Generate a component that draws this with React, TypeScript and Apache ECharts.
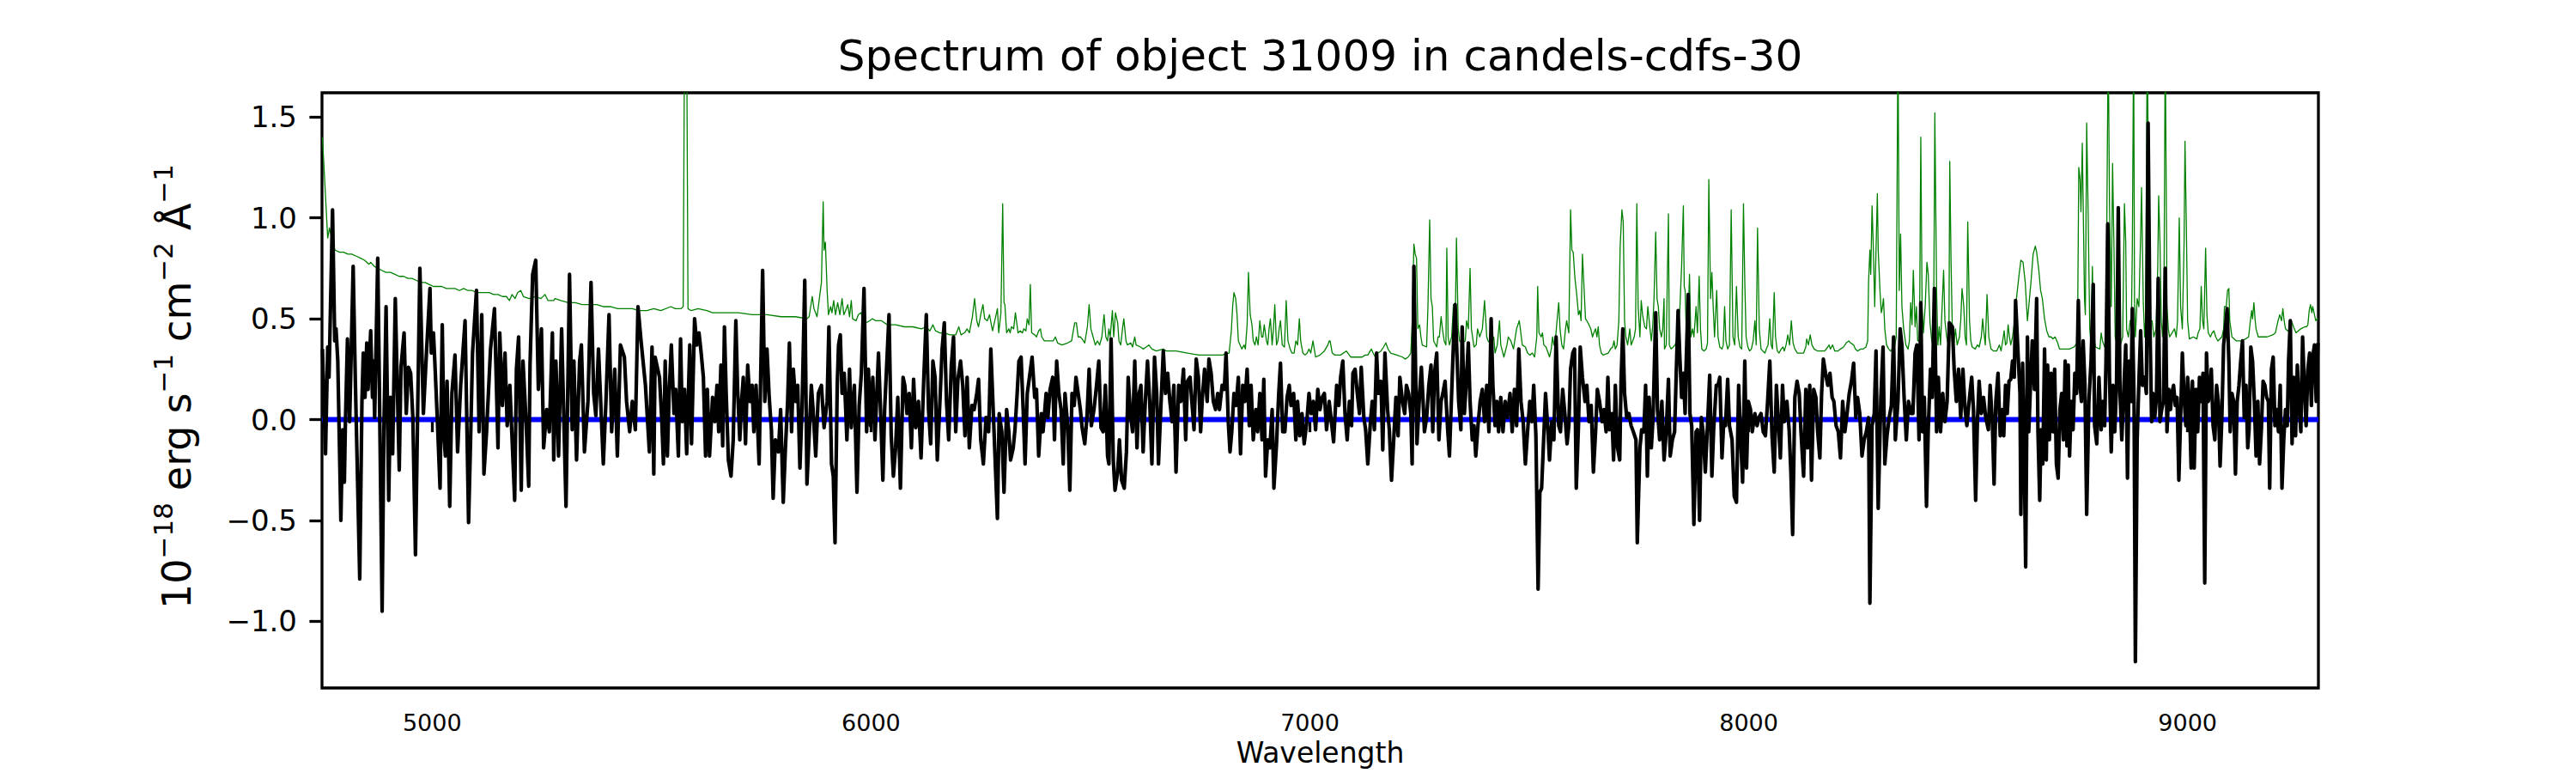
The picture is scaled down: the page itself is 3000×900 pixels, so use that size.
import React, { useEffect, useRef } from "react";
import * as echarts from "echarts";

const titleText = "Spectrum of object 31009 in candels-cdfs-30";
const xLabelText = "Wavelength";
const xTicks = [5000, 6000, 7000, 8000, 9000];
const yTicks = [-1.0, -0.5, 0.0, 0.5, 1.0, 1.5];
const waveRange = [4749, 9298];
const fluxRange = [-1.33, 1.62];
const zeroLevel = 0;

// black: measured flux [wavelength, value]
const fluxPoints: [number, number][] = [
[4750,0.35],[4757,-0.17],[4762,0.36],[4765,0.21],[4773,1.04],[4778,0.39],[4781,0.45],[4785,0.29],[4792,-0.50],[4796,-0.05],[4800,-0.31],[4802,-0.05],[4807,0.40],[4812,-0.01],[4820,0.76],[4825,0.19],[4835,-0.79],[4840,0.09],[4843,0.33],[4847,0.11],[4851,0.38],[4854,0.15],[4860,0.44],[4864,0.11],[4866,0.29],[4869,0.01],[4876,0.80],[4879,0.29],[4886,-0.95],[4890,-0.05],[4895,0.56],[4901,-0.40],[4905,0.11],[4910,-0.17],[4916,0.60],[4925,-0.25],[4929,0.26],[4936,0.43],[4941,0.03],[4946,0.26],[4951,0.23],[4956,0.01],[4962,-0.67],[4966,-0.10],[4972,0.75],[4980,0.03],[4987,0.33],[4995,0.65],[4998,0.33],[5003,0.43],[5006,0.29],[5012,-0.01],[5018,-0.34],[5023,0.47],[5027,-0.08],[5030,-0.18],[5034,0.19],[5040,-0.43],[5045,0.13],[5052,0.32],[5058,-0.16],[5065,0.17],[5075,0.49],[5083,-0.51],[5088,-0.06],[5092,0.33],[5101,0.64],[5107,-0.06],[5113,0.52],[5118,-0.27],[5124,-0.06],[5133,0.35],[5142,0.55],[5150,-0.14],[5154,0.43],[5160,0.07],[5166,0.33],[5171,-0.03],[5177,0.17],[5188,-0.40],[5192,0.25],[5197,0.41],[5203,-0.35],[5207,0.29],[5214,-0.01],[5220,-0.33],[5223,0.27],[5229,0.72],[5236,0.79],[5242,0.15],[5249,0.45],[5254,-0.14],[5261,0.05],[5267,-0.06],[5274,0.43],[5277,-0.20],[5282,0.29],[5288,-0.18],[5295,0.45],[5305,-0.43],[5313,0.72],[5319,-0.05],[5323,0.29],[5329,-0.20],[5336,0.29],[5340,0.37],[5347,-0.16],[5355,0.09],[5362,0.68],[5368,0.13],[5373,0.02],[5379,0.35],[5390,-0.22],[5396,0.09],[5403,0.52],[5409,-0.06],[5416,0.25],[5422,-0.18],[5429,0.37],[5438,0.31],[5443,0.09],[5450,-0.06],[5456,0.09],[5463,-0.05],[5469,0.56],[5476,0.39],[5486,0.17],[5495,-0.16],[5501,0.36],[5505,-0.27],[5508,0.31],[5518,0.21],
[5523,0.01],[5527,-0.22],[5531,0.29],[5536,-0.18],[5540,0.13],[5545,0.37],[5551,0.03],[5555,0.15],[5561,-0.18],[5566,0.40],[5570,-0.01],[5575,0.15],[5580,-0.17],[5587,0.37],[5591,-0.12],[5598,0.50],[5603,0.37],[5608,0.43],[5613,0.33],[5618,0.21],[5623,-0.18],[5627,0.15],[5632,-0.18],[5639,0.11],[5644,-0.01],[5649,0.17],[5653,-0.06],[5658,0.27],[5662,-0.13],[5666,0.46],[5670,0.13],[5675,-0.20],[5681,-0.28],[5686,-0.10],[5692,0.49],[5696,0.15],[5701,-0.10],[5705,0.09],[5709,0.21],[5714,-0.12],[5719,0.27],[5724,0.09],[5729,0.17],[5733,-0.06],[5738,0.17],[5745,-0.22],[5753,0.74],[5758,0.09],[5763,0.35],[5768,0.11],[5773,-0.05],[5777,-0.39],[5782,-0.10],[5789,-0.16],[5794,0.05],[5800,-0.41],[5805,-0.14],[5810,0.09],[5814,0.38],[5819,-0.06],[5823,0.25],[5828,0.09],[5833,0.17],[5838,-0.24],[5843,0.07],[5849,0.69],[5854,-0.32],[5859,-0.08],[5864,0.17],[5868,0.05],[5874,-0.18],[5880,0.13],[5887,0.17],[5893,-0.04],[5900,0.09],[5904,0.46],[5910,-0.22],[5914,-0.28],[5918,-0.61],[5923,0.17],[5926,0.37],[5930,0.42],[5934,0.13],[5939,0.23],[5945,-0.10],[5951,0.25],[5955,-0.04],[5962,0.17],[5968,-0.36],[5973,0.07],[5978,0.23],[5984,0.65],[5990,-0.06],[5994,0.25],[5999,-0.03],[6004,0.21],[6009,-0.10],[6017,0.33],[6022,0.03],[6027,-0.30],[6031,0.05],[6037,0.33],[6041,0.52],[6046,-0.08],[6051,-0.28],[6056,-0.14],[6061,0.11],[6067,-0.34],[6073,0.21],[6077,0.17],[6082,0.03],[6087,0.13],[6092,-0.14],[6097,0.20],[6102,-0.04],[6108,0.09],[6114,-0.19],[6120,0.19],[6126,0.52],[6131,0.05],[6136,-0.12],[6141,0.29],[6146,0.21],[6151,-0.20],[6157,0.09],[6162,0.35],[6167,0.48],[6172,0.09],[6177,-0.10],[6183,0.27],[6188,0.41],[6193,-0.06],[6198,0.20],[6204,0.29],[6209,0.17],[6214,-0.08],[6219,0.21],[6224,-0.14],[6230,0.07],[6235,0.05],[6241,0.13],[6245,0.20],[6250,-0.10],[6256,-0.22],[6262,0.01],[6268,-0.06],[6273,0.35],
[6288,-0.49],[6292,0.03],[6298,-0.06],[6303,-0.36],[6309,0.05],[6314,-0.06],[6318,-0.20],[6324,-0.14],[6328,-0.05],[6333,0.13],[6337,0.29],[6342,0.31],[6347,0.03],[6351,-0.22],[6356,0.13],[6361,0.21],[6367,0.31],[6373,0.11],[6377,0.15],[6382,-0.18],[6388,0.03],[6392,-0.06],[6399,0.13],[6403,0.01],[6408,0.15],[6414,0.21],[6418,-0.10],[6423,0.29],[6428,0.13],[6433,0.05],[6438,-0.22],[6442,0.13],[6448,-0.03],[6453,-0.35],[6458,0.13],[6463,0.07],[6467,0.21],[6472,0.13],[6477,0.05],[6481,-0.04],[6487,-0.12],[6492,0.01],[6497,0.25],[6502,-0.03],[6508,0.05],[6513,0.15],[6519,0.29],[6524,-0.04],[6529,-0.06],[6534,0.17],[6539,-0.18],[6542,-0.22],[6547,0.40],[6552,-0.20],[6556,-0.35],[6562,-0.26],[6566,-0.10],[6571,-0.30],[6577,-0.34],[6582,-0.16],[6586,0.21],[6591,0.03],[6596,-0.06],[6601,0.29],[6606,-0.14],[6611,0.13],[6615,0.17],[6620,-0.16],[6625,0.09],[6630,0.29],[6635,0.09],[6640,-0.22],[6646,0.31],[6651,0.13],[6655,-0.22],[6661,0.09],[6666,0.34],[6671,0.13],[6676,0.23],[6681,0.09],[6686,-0.01],[6690,0.17],[6695,-0.26],[6701,0.17],[6706,0.09],[6712,0.25],[6717,-0.10],[6721,0.19],[6727,0.21],[6731,0.09],[6736,-0.05],[6741,0.30],[6746,0.21],[6751,-0.06],[6755,0.11],[6760,0.25],[6766,0.09],[6770,0.30],[6775,0.23],[6780,0.09],[6785,0.05],[6790,0.13],[6794,0.05],[6800,0.17],[6805,0.15],[6809,0.33],[6814,-0.01],[6818,-0.16],[6822,-0.06],[6827,0.13],[6832,0.07],[6837,0.21],[6842,-0.17],[6847,0.17],[6852,0.09],[6857,0.25],[6862,-0.03],[6866,0.17],[6871,-0.10],[6877,0.05],[6881,-0.06],[6886,0.13],[6891,-0.10],[6895,0.20],[6899,-0.28],[6904,-0.10],[6909,-0.14],[6914,0.05],[6918,-0.34],[6924,-0.12],[6929,0.13],[6933,0.28],[6938,-0.06],[6943,-0.06],[6948,0.11],[6953,0.17],[6957,0.07],[6963,0.13],[6968,-0.10],[6972,0.09],[6977,-0.08],[6982,0.03],[6987,-0.12],[6993,-0.01],[6998,0.13],[7003,0.03],[7008,0.09],[7013,-0.05],[7018,0.15],[7023,0.05],[7028,0.11],[7033,0.13],[7038,-0.05],[7044,0.09],
[7054,-0.11],[7061,0.17],[7066,0.07],[7070,0.21],[7075,0.29],[7080,0.03],[7085,-0.10],[7090,0.09],[7095,-0.03],[7098,0.23],[7103,0.25],[7108,0.13],[7113,0.03],[7117,0.26],[7123,0.01],[7127,-0.05],[7132,-0.22],[7138,-0.01],[7142,0.09],[7147,-0.05],[7152,0.33],[7156,0.13],[7162,0.19],[7166,-0.15],[7171,0.33],[7177,0.05],[7181,-0.05],[7186,-0.30],[7191,-0.10],[7196,0.11],[7201,-0.08],[7205,0.21],[7211,0.09],[7216,0.03],[7220,0.17],[7225,0.13],[7230,0.03],[7233,-0.22],[7237,0.76],[7241,0.23],[7244,-0.12],[7250,0.13],[7254,0.26],[7258,0.09],[7261,-0.06],[7266,0.01],[7271,0.17],[7276,0.27],[7280,-0.06],[7284,0.23],[7289,0.33],[7294,-0.10],[7299,0.09],[7303,0.13],[7308,0.19],[7314,-0.05],[7318,-0.18],[7323,0.13],[7327,0.37],[7331,0.57],[7334,0.39],[7339,0.09],[7344,-0.05],[7347,0.46],[7352,0.03],[7356,0.17],[7361,0.38],[7365,0.09],[7370,-0.10],[7374,-0.03],[7378,-0.18],[7383,-0.03],[7388,0.09],[7393,0.15],[7398,-0.01],[7403,0.17],[7408,-0.06],[7413,0.50],[7417,0.17],[7422,-0.03],[7426,0.09],[7430,-0.06],[7435,0.11],[7440,-0.06],[7445,0.09],[7450,0.01],[7456,0.13],[7461,-0.06],[7466,0.15],[7471,-0.03],[7476,0.35],[7481,0.09],[7486,-0.01],[7491,-0.22],[7496,-0.06],[7501,0.09],[7506,-0.01],[7510,0.17],[7515,-0.08],[7520,-0.84],[7524,-0.36],[7528,-0.34],[7533,-0.08],[7537,0.13],[7542,-0.04],[7546,-0.20],[7551,-0.01],[7556,-0.10],[7561,0.41],[7567,-0.03],[7571,-0.06],[7576,0.15],[7581,0.03],[7586,-0.12],[7590,-0.03],[7594,0.25],[7599,0.33],[7603,0.35],[7607,-0.34],[7612,-0.03],[7616,0.36],[7621,0.21],[7627,0.09],[7631,0.17],[7636,-0.01],[7641,0.07],[7646,-0.26],[7651,-0.06],[7655,0.15],[7660,0.09],[7666,-0.01],[7670,0.05],[7675,-0.06],[7679,0.21],[7683,-0.05],[7688,0.03],[7692,-0.20],[7696,0.17],[7701,-0.14],[7706,-0.20],[7709,0.19],[7713,0.45],[7717,0.13],[7722,0.01],[7727,0.03],[7732,-0.03],[7737,-0.06],[7743,-0.10],[7746,-0.61],[7752,-0.14],[7756,-0.05],[7761,-0.06],[7765,0.17],[7769,-0.28],[7773,0.11],[7778,-0.14],[7782,0.01],[7788,0.53],[7792,0.05],[7797,-0.10],[7802,0.09],[7807,-0.20],
[7812,-0.06],[7817,0.20],[7821,-0.18],[7826,-0.10],[7831,-0.06],[7834,0.17],[7839,0.54],[7843,0.31],[7847,0.11],[7851,0.23],[7855,0.03],[7857,0.25],[7862,0.62],[7866,0.03],[7870,-0.03],[7875,-0.52],[7880,-0.06],[7883,-0.05],[7888,-0.50],[7892,0.01],[7896,-0.06],[7901,-0.26],[7906,-0.03],[7911,0.22],[7916,-0.28],[7920,-0.05],[7926,0.17],[7930,0.17],[7934,0.21],[7939,-0.19],[7943,-0.01],[7947,-0.03],[7952,0.20],[7956,-0.03],[7962,-0.10],[7967,-0.38],[7972,-0.41],[7977,0.17],[7981,-0.06],[7986,-0.31],[7991,0.29],[7995,-0.24],[7999,0.09],[8004,0.05],[8008,-0.06],[8014,0.03],[8019,-0.03],[8023,0.01],[8028,0.03],[8033,-0.06],[8038,-0.08],[8043,0.09],[8048,0.29],[8053,-0.08],[8058,-0.26],[8063,0.17],[8068,-0.03],[8072,-0.19],[8077,0.17],[8081,-0.01],[8087,0.09],[8092,-0.05],[8096,-0.26],[8100,-0.57],[8105,0.11],[8110,0.19],[8115,0.13],[8119,-0.06],[8125,-0.28],[8130,0.15],[8134,-0.14],[8139,0.17],[8143,-0.30],[8148,0.15],[8153,0.11],[8157,-0.06],[8162,-0.19],[8166,0.13],[8170,0.30],[8175,0.23],[8180,0.17],[8185,0.23],[8190,0.11],[8194,0.09],[8199,-0.03],[8204,-0.06],[8209,-0.19],[8214,0.09],[8219,-0.06],[8224,0.03],[8229,0.13],[8234,0.19],[8239,0.28],[8244,0.01],[8248,0.11],[8253,0.03],[8258,-0.18],[8263,-0.10],[8268,-0.06],[8273,0.01],[8276,-0.91],[8281,-0.03],[8286,0.03],[8290,0.34],[8295,-0.44],[8301,0.11],[8306,0.36],[8310,-0.22],[8315,-0.08],[8320,0.01],[8325,0.07],[8330,0.41],[8334,-0.10],[8340,0.09],[8345,0.45],[8349,0.37],[8354,0.11],[8359,-0.10],[8364,0.09],[8370,0.03],[8374,0.03],[8379,0.33],[8383,0.37],[8388,-0.10],[8392,0.58],[8396,-0.06],[8400,0.11],[8405,-0.43],[8409,-0.05],[8414,0.25],[8418,0.11],[8423,0.65],[8428,-0.06],[8432,0.21],[8437,-0.06],[8442,0.13],[8447,-0.01],[8452,0.09],[8457,0.48],[8464,0.46],[8468,0.25],[8473,0.09],[8478,0.25],[8483,0.01],[8488,0.25],[8493,0.05],[8497,-0.03],[8503,0.11],[8508,0.21],[8512,0.05],[8517,-0.40],[8521,-0.01],[8525,0.19],[8530,0.03],[8535,0.11],[8540,0.01],[8546,-0.05],[8550,0.17],[8555,-0.01],[8559,-0.32],[8563,0.09],[8568,0.23],[8573,-0.08],
[8578,0.05],[8581,-0.08],[8585,0.17],[8589,0.03],[8593,0.19],[8597,0.20],[8601,0.29],[8605,0.21],[8608,0.59],[8614,0.31],[8618,0.13],[8620,-0.47],[8624,0.28],[8627,-0.06],[8631,-0.73],[8635,0.41],[8638,-0.06],[8642,0.17],[8646,0.39],[8651,0.15],[8656,0.60],[8659,-0.06],[8663,-0.40],[8666,-0.05],[8670,-0.22],[8674,0.35],[8678,-0.20],[8681,0.27],[8685,-0.10],[8689,0.23],[8693,-0.06],[8697,0.25],[8701,-0.22],[8705,-0.29],[8709,0.05],[8713,0.13],[8717,-0.10],[8721,0.29],[8725,-0.13],[8728,0.27],[8731,-0.18],[8735,0.09],[8739,-0.05],[8743,0.23],[8747,0.13],[8751,0.59],[8755,0.17],[8758,0.09],[8762,0.39],[8766,0.17],[8770,-0.47],[8775,0.09],[8780,0.29],[8785,0.67],[8788,-0.03],[8793,-0.12],[8798,0.21],[8803,-0.05],[8807,0.09],[8811,-0.03],[8814,0.29],[8818,0.97],[8822,0.21],[8826,-0.16],[8830,0.17],[8834,-0.06],[8838,0.17],[8842,1.05],[8846,0.13],[8850,-0.10],[8855,0.17],[8859,0.37],[8863,-0.29],[8867,0.29],[8871,0.09],[8874,0.55],[8878,0.09],[8881,-1.20],[8885,-0.10],[8889,0.19],[8893,0.44],[8897,0.17],[8902,0.21],[8906,0.13],[8910,1.47],[8914,0.49],[8918,-0.01],[8921,0.13],[8925,0.01],[8929,0.11],[8933,0.70],[8937,-0.01],[8941,0.05],[8945,0.09],[8949,0.75],[8953,-0.06],[8957,0.15],[8961,0.05],[8964,0.13],[8968,0.17],[8972,0.07],[8976,0.11],[8980,-0.30],[8984,0.01],[8988,0.33],[8992,0.11],[8996,-0.03],[9000,0.21],[9004,0.09],[9008,-0.24],[9011,0.19],[9015,-0.24],[9019,0.15],[9023,-0.06],[9027,0.21],[9031,0.09],[9035,0.23],[9039,-0.81],[9043,0.33],[9047,0.09],[9051,0.13],[9054,0.25],[9058,-0.03],[9062,-0.10],[9066,0.17],[9070,0.09],[9074,-0.23],[9078,0.01],[9082,0.37],[9086,0.45],[9090,0.55],[9094,0.29],[9097,-0.06],[9101,0.13],[9105,0.09],[9109,-0.27],[9113,0.09],[9117,0.17],[9121,0.29],[9125,0.39],[9129,0.01],[9133,0.17],[9137,-0.14],[9140,-0.05],[9144,0.36],[9148,0.29],[9152,0.09],[9156,-0.18],[9160,0.09],[9164,-0.22],[9168,-0.05],[9172,0.19],[9176,0.17],[9180,0.11],[9184,0.09],[9187,-0.34],[9191,0.25],[9195,0.31],[9199,-0.03],[9203,0.05],[9207,-0.06],[9211,0.17],[9215,-0.34],[9219,-0.10],[9223,0.05],[9227,-0.03],[9230,0.29],[9234,0.49],[9238,-0.12],[9242,0.21],[9246,-0.08],[9250,0.27],[9254,0.07],[9258,-0.06],[9262,0.41],[9266,0.17],[9270,-0.03],[9274,0.25],[9278,0.33],[9282,0.07],[9285,0.31],[9289,0.37],[9293,0.09],[9297,0.38]
];

// green: noise spectrum [wavelength, value]
const noisePoints: [number, number][] = [
[4750,1.40],[4762,0.90],[4766,0.95],[4770,0.91],[4775,0.86],[4779,0.84],[4789,0.83],[4798,0.83],[4808,0.82],[4817,0.82],[4827,0.81],[4837,0.80],[4846,0.79],[4856,0.77],[4860,0.78],[4868,0.76],[4876,0.75],[4885,0.74],[4895,0.73],[4905,0.73],[4915,0.72],[4925,0.71],[4935,0.71],[4945,0.70],[4954,0.70],[4964,0.69],[4974,0.68],[4984,0.68],[4993,0.67],[5003,0.66],[5013,0.66],[5022,0.66],[5032,0.65],[5042,0.65],[5052,0.65],[5062,0.64],[5072,0.65],[5081,0.64],[5091,0.64],[5101,0.63],[5111,0.63],[5120,0.63],[5130,0.63],[5140,0.62],[5150,0.62],[5160,0.61],[5169,0.61],[5176,0.59],[5182,0.62],[5189,0.60],[5195,0.63],[5202,0.64],[5208,0.61],[5221,0.60],[5235,0.61],[5248,0.60],[5257,0.62],[5264,0.59],[5277,0.59],[5280,0.60],[5293,0.59],[5310,0.58],[5326,0.58],[5342,0.57],[5358,0.57],[5375,0.57],[5391,0.56],[5407,0.56],[5423,0.55],[5440,0.55],[5456,0.55],[5472,0.54],[5489,0.54],[5505,0.55],[5521,0.54],
[5544,0.56],[5554,0.55],[5567,0.55],[5572,0.56],[5575,1.9],[5580,1.9],[5583,0.55],[5590,0.54],[5606,0.55],[5626,0.54],[5639,0.53],[5665,0.53],[5698,0.53],[5730,0.52],[5763,0.52],[5795,0.51],[5828,0.51],[5854,0.50],[5859,0.51],[5866,0.61],[5870,0.55],[5877,0.51],[5887,0.68],[5891,1.08],[5893,0.84],[5896,0.88],[5900,0.64],[5903,0.52],[5908,0.56],[5911,0.53],[5915,0.59],[5919,0.52],[5924,0.58],[5929,0.52],[5934,0.60],[5938,0.52],[5942,0.54],[5947,0.57],[5951,0.51],[5955,0.59],[5958,0.50],[5966,0.49],[5971,0.52],[5977,0.53],[5981,0.50],[5988,0.48],[5997,0.49],[6003,0.50],[6011,0.49],[6024,0.49],[6037,0.47],[6056,0.47],[6076,0.46],[6095,0.46],[6115,0.45],[6125,0.46],[6134,0.44],[6141,0.47],[6147,0.44],[6157,0.43],[6167,0.43],[6180,0.42],[6193,0.42],[6200,0.46],[6205,0.42],[6213,0.43],[6219,0.45],[6224,0.43],[6231,0.51],[6236,0.60],[6241,0.49],[6245,0.46],[6250,0.52],[6255,0.57],[6259,0.50],[6265,0.49],[6270,0.52],[6275,0.46],[6277,0.44],[6283,0.50],
[6288,0.55],[6291,0.43],[6296,0.53],[6300,1.07],[6303,0.58],[6305,0.57],[6309,0.43],[6314,0.45],[6317,0.43],[6320,0.46],[6325,0.45],[6329,0.53],[6332,0.48],[6335,0.43],[6340,0.44],[6345,0.43],[6348,0.45],[6353,0.44],[6356,0.50],[6360,0.47],[6363,0.67],[6366,0.43],[6373,0.42],[6377,0.41],[6382,0.44],[6386,0.45],[6389,0.41],[6395,0.39],[6405,0.39],[6415,0.39],[6420,0.41],[6425,0.38],[6435,0.37],[6448,0.38],[6457,0.39],[6464,0.48],[6468,0.48],[6472,0.41],[6477,0.41],[6481,0.40],[6487,0.38],[6493,0.46],[6497,0.57],[6501,0.45],[6506,0.41],[6511,0.37],[6516,0.39],[6521,0.37],[6526,0.41],[6531,0.52],[6535,0.41],[6539,0.39],[6542,0.45],[6545,0.41],[6550,0.54],[6553,0.41],[6557,0.53],[6562,0.48],[6565,0.39],[6569,0.37],[6573,0.45],[6576,0.50],[6581,0.39],[6584,0.37],[6592,0.38],[6596,0.36],[6601,0.41],[6604,0.37],[6614,0.36],[6620,0.35],[6627,0.36],[6633,0.37],[6640,0.35],[6650,0.34],[6666,0.35],[6673,0.34],[6695,0.34],[6721,0.33],[6747,0.32],[6774,0.32],[6800,0.32],[6816,0.33],[6821,0.44],[6824,0.56],[6827,0.63],[6831,0.60],[6834,0.52],[6837,0.39],[6841,0.37],[6845,0.35],[6850,0.37],[6853,0.35],[6857,0.47],[6860,0.73],[6864,0.52],[6868,0.47],[6871,0.39],[6875,0.37],[6878,0.41],[6882,0.37],[6886,0.49],[6890,0.41],[6893,0.41],[6896,0.47],[6901,0.39],[6904,0.37],[6907,0.45],[6910,0.50],[6914,0.37],[6917,0.45],[6920,0.57],[6924,0.37],[6927,0.39],[6930,0.45],[6933,0.49],[6937,0.37],[6942,0.36],[6946,0.59],[6950,0.39],[6955,0.35],[6959,0.33],[6964,0.33],[6968,0.39],[6972,0.37],[6976,0.50],[6979,0.39],[6984,0.33],[6989,0.32],[6994,0.33],[6998,0.35],[7002,0.33],[7007,0.39],[7010,0.35],[7013,0.31],[7023,0.32],[7033,0.34],[7041,0.37],[7044,0.39],
[7046,0.39],[7051,0.33],[7057,0.32],[7070,0.32],[7083,0.34],[7093,0.31],[7106,0.31],[7119,0.31],[7126,0.32],[7132,0.32],[7140,0.35],[7144,0.33],[7149,0.31],[7155,0.33],[7162,0.34],[7168,0.36],[7173,0.38],[7178,0.35],[7184,0.33],[7198,0.32],[7211,0.31],[7217,0.30],[7224,0.31],[7230,0.33],[7233,0.47],[7237,0.87],[7240,0.82],[7243,0.80],[7246,0.45],[7250,0.47],[7253,0.41],[7256,0.37],[7266,0.36],[7269,0.56],[7273,0.99],[7276,0.60],[7279,0.56],[7282,0.39],[7289,0.36],[7292,0.41],[7295,0.41],[7299,0.51],[7302,0.45],[7306,0.39],[7310,0.37],[7312,0.85],[7315,0.41],[7318,0.37],[7323,0.41],[7327,0.57],[7331,0.45],[7334,0.90],[7338,0.45],[7341,0.39],[7347,0.38],[7354,0.39],[7357,0.49],[7361,0.45],[7365,0.75],[7368,0.45],[7374,0.36],[7379,0.37],[7382,0.45],[7387,0.41],[7393,0.45],[7398,0.59],[7403,0.41],[7406,0.39],[7413,0.37],[7419,0.41],[7422,0.33],[7427,0.37],[7432,0.49],[7435,0.37],[7442,0.31],[7449,0.37],[7452,0.41],[7458,0.39],[7464,0.35],[7468,0.41],[7471,0.45],[7477,0.49],[7479,0.46],[7484,0.37],[7491,0.36],[7496,0.33],[7501,0.32],[7507,0.33],[7512,0.31],[7517,0.41],[7519,0.66],[7522,0.43],[7527,0.41],[7530,0.43],[7533,0.37],[7538,0.36],[7543,0.33],[7546,0.31],[7550,0.35],[7553,0.41],[7556,0.37],[7560,0.41],[7564,0.51],[7567,0.58],[7570,0.45],[7574,0.37],[7578,0.35],[7582,0.44],[7585,0.49],[7590,0.43],[7594,1.04],[7597,0.84],[7600,0.83],[7604,0.70],[7608,0.62],[7612,0.52],[7615,0.54],[7618,0.49],[7621,0.82],[7625,0.64],[7628,0.50],[7631,0.49],[7636,0.47],[7640,0.45],[7644,0.41],[7647,0.43],[7651,0.45],[7654,0.41],[7657,0.46],[7660,0.37],[7664,0.33],[7668,0.32],[7680,0.33],[7685,0.35],[7690,0.36],[7693,0.39],[7696,0.35],[7700,0.37],[7704,0.49],[7707,0.86],[7711,1.04],[7714,0.98],[7717,0.49],[7720,0.41],[7724,0.37],[7729,0.45],[7732,0.37],[7739,0.41],[7742,0.45],[7745,1.07],[7748,0.56],[7752,0.41],[7755,0.59],[7758,0.52],[7763,0.46],[7767,0.45],[7770,0.56],[7775,0.45],[7778,0.39],[7781,0.46],[7784,0.59],[7788,0.93],[7791,0.60],[7794,0.56],[7797,0.45],[7801,0.41],[7804,0.45],[7807,0.60],
[7808,0.35],[7812,0.37],[7817,1.02],[7819,0.37],[7823,0.35],[7828,0.36],[7832,0.37],[7838,0.41],[7843,0.55],[7847,0.76],[7851,1.06],[7853,0.66],[7855,0.64],[7858,0.41],[7862,0.50],[7865,0.72],[7868,0.41],[7872,0.45],[7875,0.41],[7880,0.56],[7883,0.43],[7887,0.71],[7890,0.45],[7893,0.35],[7898,0.34],[7903,0.35],[7906,0.38],[7909,1.19],[7913,0.60],[7916,0.73],[7919,0.56],[7922,0.41],[7927,0.64],[7930,0.41],[7934,0.36],[7939,0.35],[7942,0.37],[7945,0.56],[7948,0.39],[7952,0.35],[7956,0.37],[7960,1.04],[7964,0.41],[7968,0.37],[7972,0.66],[7976,0.41],[7980,0.36],[7984,0.35],[7988,1.07],[7991,0.68],[7994,0.41],[7998,0.36],[8002,0.34],[8006,0.35],[8010,0.39],[8014,0.49],[8017,0.37],[8020,0.95],[8024,0.45],[8028,0.35],[8032,0.34],[8037,0.33],[8040,0.35],[8044,0.37],[8048,0.50],[8051,0.37],[8054,0.35],[8058,0.63],[8061,0.41],[8065,0.34],[8069,0.33],[8074,0.35],[8078,0.36],[8081,0.34],[8085,0.37],[8089,0.42],[8093,0.37],[8097,0.49],[8101,0.38],[8105,0.35],[8111,0.33],[8118,0.33],[8125,0.33],[8130,0.36],[8132,0.40],[8136,0.37],[8140,0.42],[8144,0.37],[8149,0.35],[8157,0.34],[8167,0.34],[8173,0.34],[8180,0.36],[8183,0.37],[8186,0.35],[8191,0.37],[8196,0.34],[8203,0.34],[8209,0.35],[8216,0.36],[8222,0.38],[8228,0.39],[8232,0.38],[8239,0.37],[8243,0.35],[8248,0.34],[8255,0.35],[8261,0.35],[8267,0.36],[8271,0.39],[8273,0.68],[8276,0.84],[8278,0.72],[8281,1.06],[8284,0.84],[8287,0.56],[8293,1.12],[8295,0.84],[8299,0.64],[8302,0.53],[8304,0.55],[8307,0.60],[8310,0.45],[8314,0.37],[8319,0.35],[8323,0.34],[8328,0.35],[8333,0.37],[8336,0.41],[8340,1.9],[8343,0.64],[8346,0.92],[8349,0.56],[8353,0.45],[8358,0.37],[8363,0.35],[8366,0.39],[8369,0.58],[8372,0.47],[8375,0.74],[8379,0.46],[8382,0.56],[8385,0.39],[8389,0.39],[8392,1.40],[8395,0.56],[8398,0.43],[8402,0.56],[8406,0.78],[8409,0.72],[8413,0.48],[8417,0.39],[8421,0.36],[8424,1.52],[8428,0.64],[8431,0.37],[8434,0.46],[8437,0.37],[8444,0.74],[8447,0.49],[8451,0.41],[8456,0.36],[8458,1.28],[8461,0.78],[8464,0.43],[8467,0.37],[8471,0.45],[8475,0.37],[8480,0.41],[8483,0.49],[8486,0.65],[8490,0.56],[8493,0.41],[8496,0.37],[8499,0.98],[8503,0.49],[8506,0.39],[8509,0.36],[8516,0.35],[8521,0.37],[8525,0.36],[8530,0.41],[8533,0.50],[8535,0.45],[8539,0.37],[8543,0.62],[8547,0.41],[8552,0.35],[8558,0.34],[8565,0.34],[8571,0.37],
[8575,0.34],[8580,0.41],[8582,0.44],[8585,0.37],[8588,0.38],[8591,0.47],[8594,0.41],[8597,0.37],[8601,0.41],[8606,0.49],[8610,0.60],[8615,0.70],[8620,0.79],[8625,0.78],[8630,0.68],[8635,0.49],[8638,0.56],[8643,0.68],[8648,0.82],[8653,0.86],[8656,0.83],[8661,0.74],[8665,0.64],[8669,0.60],[8674,0.50],[8679,0.44],[8684,0.41],[8689,0.41],[8693,0.40],[8698,0.41],[8704,0.38],[8708,0.35],[8713,0.35],[8721,0.35],[8731,0.35],[8741,0.36],[8749,0.38],[8752,1.25],[8755,1.19],[8757,1.03],[8760,1.37],[8762,1.07],[8765,0.60],[8767,0.52],[8770,1.47],[8773,1.07],[8777,0.45],[8780,0.37],[8783,0.76],[8786,0.41],[8790,0.36],[8800,0.35],[8803,0.43],[8806,0.39],[8811,0.36],[8814,0.41],[8819,1.9],[8822,1.07],[8826,0.56],[8829,1.27],[8832,0.88],[8835,0.41],[8839,0.37],[8843,0.49],[8847,0.37],[8852,0.41],[8856,1.07],[8859,0.88],[8861,0.45],[8865,0.41],[8869,0.49],[8872,0.50],[8874,0.84],[8877,1.9],[8879,0.60],[8881,0.41],[8885,0.60],[8889,0.56],[8893,0.92],[8895,1.15],[8899,0.58],[8902,0.41],[8904,0.49],[8908,1.9],[8912,0.84],[8915,0.49],[8919,0.49],[8923,0.41],[8928,0.45],[8932,0.76],[8934,1.11],[8937,0.88],[8940,0.49],[8943,0.41],[8946,0.56],[8949,1.9],[8953,0.56],[8956,0.45],[8959,0.41],[8970,0.45],[8974,0.41],[8977,0.49],[8981,1.00],[8984,0.56],[8988,0.45],[8992,0.88],[8994,1.38],[8997,0.98],[9000,0.49],[9004,0.40],[9013,0.41],[9021,0.40],[9024,0.43],[9028,0.45],[9031,0.66],[9034,0.49],[9037,0.45],[9041,0.85],[9044,0.52],[9047,0.43],[9052,0.41],[9056,0.43],[9060,0.44],[9064,0.41],[9069,0.39],[9078,0.41],[9082,0.45],[9084,0.56],[9088,0.56],[9091,0.64],[9094,0.65],[9096,0.49],[9101,0.41],[9111,0.39],[9122,0.39],[9132,0.40],[9139,0.41],[9143,0.49],[9146,0.54],[9148,0.50],[9151,0.58],[9154,0.49],[9156,0.45],[9161,0.41],[9181,0.41],[9194,0.42],[9200,0.43],[9206,0.49],[9210,0.52],[9214,0.49],[9217,0.55],[9220,0.49],[9223,0.45],[9228,0.44],[9233,0.45],[9236,0.49],[9240,0.47],[9243,0.45],[9247,0.43],[9258,0.45],[9267,0.46],[9271,0.46],[9274,0.47],[9277,0.54],[9280,0.57],[9283,0.53],[9285,0.56],[9289,0.52],[9292,0.49],[9295,0.50],[9298,0.50]
];

const FONT = '"DejaVu Sans", "Liberation Sans", sans-serif';

export default function App() {
  const ref = useRef<HTMLDivElement>(null);

  useEffect(() => {
    document.body.style.margin = "0";
    const chart = echarts.init(ref.current as HTMLDivElement, null, { renderer: "svg" });
    const fmt = (v: number) => v.toFixed(1).replace("-", "\u2212");
    chart.setOption({
      animation: false,
      backgroundColor: "#ffffff",
      grid: {
        left: 375,
        top: 108,
        width: 2325,
        height: 693,
        show: true,
        borderColor: "#000000",
        borderWidth: 3.3,
        backgroundColor: "transparent",
      },
      xAxis: {
        type: "value",
        min: waveRange[0],
        max: waveRange[1],
        axisLine: { show: false },
        splitLine: { show: false },
        axisTick: {
          show: true,
          inside: false,
          length: 14.6,
          customValues: xTicks,
          lineStyle: { color: "#000000", width: 3.3 },
        },
        axisLabel: {
          customValues: xTicks,
          fontFamily: FONT,
          fontSize: 27,
          color: "#000000",
          margin: 27,
          formatter: (v: number) => String(Math.round(v)),
        },
      },
      yAxis: {
        type: "value",
        min: fluxRange[0],
        max: fluxRange[1],
        axisLine: { show: false },
        splitLine: { show: false },
        axisTick: {
          show: true,
          inside: false,
          length: 14.6,
          customValues: yTicks,
          lineStyle: { color: "#000000", width: 3.3 },
        },
        axisLabel: {
          customValues: yTicks,
          fontFamily: FONT,
          fontSize: 34,
          color: "#000000",
          margin: 29,
          formatter: (v: number) => fmt(v),
        },
      },
      series: [
        {
          type: "line",
          data: noisePoints,
          symbol: "none",
          silent: true,
          z: 2,
          lineStyle: { color: "#008000", width: 1.3, join: "round" },
        },
        {
          type: "line",
          data: [
            [waveRange[0], zeroLevel],
            [waveRange[1], zeroLevel],
          ],
          symbol: "none",
          silent: true,
          z: 3,
          lineStyle: { color: "#0000ff", width: 6 },
        },
        {
          type: "line",
          data: fluxPoints,
          symbol: "none",
          silent: true,
          z: 4,
          lineStyle: { color: "#000000", width: 4.2, join: "round" },
        },
      ],
      graphic: [
        {
          type: "text",
          x: 1537.5,
          y: 64.5,
          silent: true,
          style: {
            text: titleText,
            font: `50px ${FONT}`,
            fill: "#000000",
            textAlign: "center",
            textVerticalAlign: "middle",
            align: "center",
            verticalAlign: "middle",
          },
        },
        {
          type: "text",
          x: 1537.5,
          y: 876,
          silent: true,
          style: {
            text: xLabelText,
            font: `33px ${FONT}`,
            fill: "#000000",
            textAlign: "center",
            textVerticalAlign: "middle",
            align: "center",
            verticalAlign: "middle",
          },
        },
        {
          type: "text",
          x: 206,
          y: 450,
          rotation: Math.PI / 2,
          silent: true,
          style: {
            text: "{m|10}{s|\u221218}{sp| }{m|erg}{sp| }{m|s}{s|\u22121}{sp| }{m|cm}{s|\u22122}{sp| }{m|\u00c5}{s|\u22121}",
            fill: "#000000",
            textAlign: "center",
            textVerticalAlign: "middle",
            align: "center",
            verticalAlign: "middle",
            rich: {
              m: { fontFamily: FONT, fontSize: 46, lineHeight: 46, verticalAlign: "bottom", fill: "#000000", color: "#000000" },
              s: { fontFamily: FONT, fontSize: 31, lineHeight: 31, verticalAlign: "bottom", padding: [0, 0, 24, 0], fill: "#000000", color: "#000000" },
              sp: { fontFamily: FONT, fontSize: 44, lineHeight: 31, verticalAlign: "bottom" },
            },
          },
        },
      ],
    });
    return () => chart.dispose();
  }, []);

  return <div ref={ref} style={{ width: 3000, height: 900, background: "#ffffff" }} />;
}
